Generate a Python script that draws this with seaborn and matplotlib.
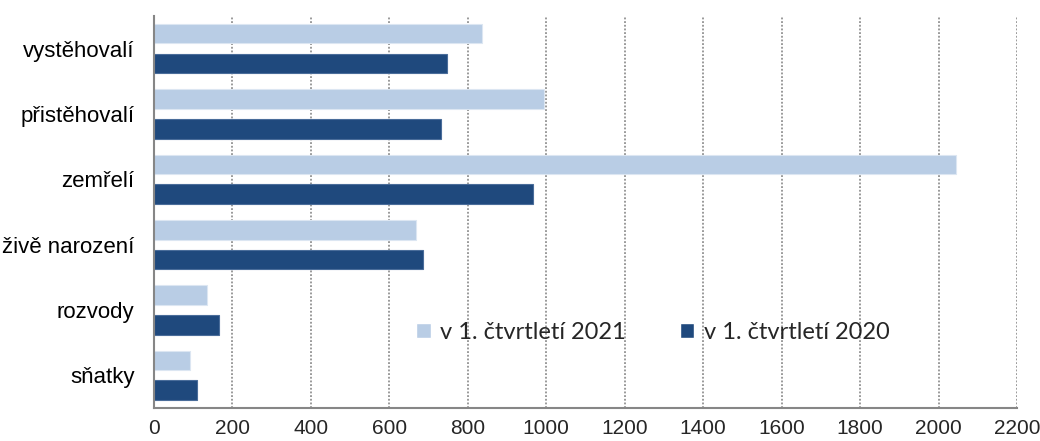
import pandas as pd
import matplotlib.pyplot as plt
import seaborn as sns

sns.set_theme(style="white")
plt.rcParams["font.family"] = ["Liberation Sans", "DejaVu Sans"]

categories = ["vystěhovalí", "přistěhovalí", "zemřelí", "živě narození", "rozvody", "sňatky"]
q1_2021 = [837, 994, 2043, 667, 135, 92]
q1_2020 = [748, 731, 967, 685, 166, 110]
series = ["v 1. čtvrtletí 2021", "v 1. čtvrtletí 2020"]
x_ticks = list(range(0, 2201, 200))

df = pd.DataFrame({
    "kategorie": categories * 2,
    "pocet": q1_2021 + q1_2020,
    "obdobi": [series[0]] * len(categories) + [series[1]] * len(categories),
})

colors = {series[0]: "#B9CDE5", series[1]: "#1F497D"}
edges = {series[0]: "#DCE6F2", series[1]: "#4A6D9A"}

fig, ax = plt.subplots(figsize=(10.4, 4.41), dpi=100)
fig.subplots_adjust(left=0.148, right=0.978, top=0.964, bottom=0.075)

sns.barplot(data=df, y="kategorie", x="pocet", hue="obdobi", hue_order=series,
            order=categories, palette=colors, orient="h", width=0.91, gap=0.34,
            saturation=1, ax=ax)

for cont, name in zip(ax.containers, series):
    for bar in cont:
        bar.set_edgecolor(edges[name])
        bar.set_linewidth(0.8)

ax.set_xlim(0, 2200)
ax.set_xticks(x_ticks)
ax.set_xticklabels([str(t) for t in x_ticks], fontsize=15,
                   family=["Liberation Sans Narrow", "Liberation Sans"])
ax.set_ylim(len(categories) - 0.5, -0.5)
ax.set_yticks(range(len(categories)))
ax.set_yticklabels(categories, fontsize=16)
ax.set_yticks([i - 0.5 for i in range(len(categories) + 1)], minor=True)
ax.tick_params(axis="y", which="major", length=0, pad=14, colors="black")
ax.tick_params(axis="y", which="minor", length=5, width=1.2, color="#868686", direction="out")
ax.tick_params(axis="x", which="major", length=5, width=1.2, color="#868686", direction="out", pad=3)
ax.set_xlabel("")
ax.set_ylabel("")

ax.grid(axis="x", linestyle=(0, (1.2, 1.2)), color="#7F7F7F", linewidth=1.1)
ax.set_axisbelow(True)
for s in ["top", "right"]:
    ax.spines[s].set_visible(False)
for s in ["left", "bottom"]:
    ax.spines[s].set_color("#868686")
    ax.spines[s].set_linewidth(1.5)

ax.legend(loc="center", bbox_to_anchor=(0.578, 0.193), ncol=2, frameon=False,
          prop={"family": ["Lato", "DejaVu Sans"], "size": 17},
          handlelength=0.6, handleheight=0.6, handletextpad=0.4, columnspacing=2.3)

plt.savefig("out.png", dpi=100)
plt.close()
